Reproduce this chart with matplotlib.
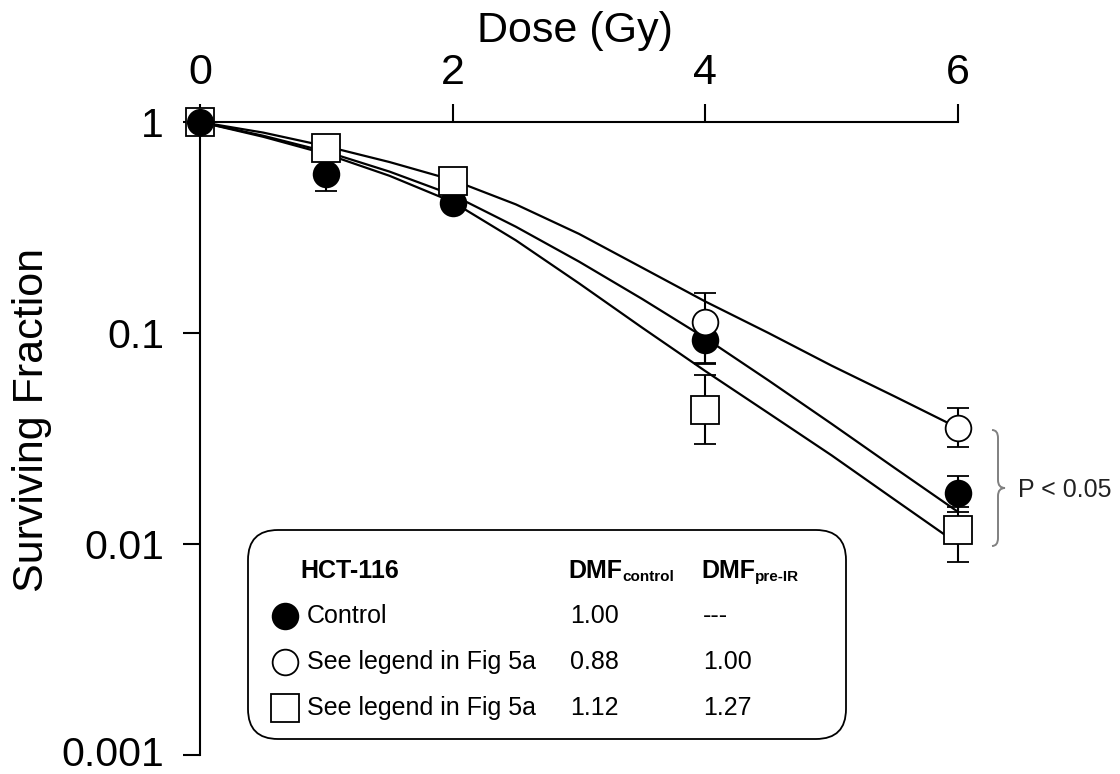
"""Clonogenic survival curve, HCT-116 (recreated figure)."""

import matplotlib.pyplot as plt
from matplotlib.lines import Line2D
from matplotlib.patches import FancyBboxPatch, PathPatch
from matplotlib.path import Path
from matplotlib.ticker import NullLocator
from matplotlib.transforms import ScaledTranslation

plt.rcParams['font.family'] = ['Liberation Sans', 'DejaVu Sans']

# measured points: mean surviving fraction with lower / upper error
ctrl_dose = [0, 1, 2, 4, 6]
ctrl_sf = [1.0, 0.567, 0.412, 0.0927, 0.0174]
ctrl_err_lo = [0, 0.097, 0, 0.0214, 0.0032]
ctrl_err_hi = [0, 0.097, 0, 0.0214, 0.0036]

open_dose = [0, 4, 6]
open_sf = [1.0, 0.113, 0.0353]
open_err_lo = [0, 0.041, 0.0066]
open_err_hi = [0, 0.041, 0.0087]

sq_dose = [0, 1, 2, 4, 6]
sq_sf = [1.0, 0.750, 0.525, 0.0431, 0.01165]
sq_err_lo = [0, 0, 0, 0.0133, 0.0034]
sq_err_hi = [0, 0, 0, 0.0201, 0.0034]

# fitted curves, every 0.5 Gy
fit_dose = [0, 0.5, 1, 1.5, 2, 2.5, 3, 3.5, 4, 4.5, 5, 5.5, 6]
fit_open = [1.0, 0.891, 0.767, 0.646, 0.531, 0.407, 0.295, 0.204, 0.141,
            0.100, 0.070, 0.050, 0.0355]
fit_ctrl = [1.0, 0.861, 0.723, 0.582, 0.451, 0.319, 0.218, 0.145, 0.0946,
            0.0596, 0.0371, 0.0229, 0.0142]
fit_sq = [1.0, 0.851, 0.705, 0.556, 0.418, 0.275, 0.172, 0.106, 0.066,
          0.0417, 0.0263, 0.0162, 0.0100]

# table inside the legend box
row_labels = ['Control', 'See legend in Fig 5a', 'See legend in Fig 5a']
dmf_control = ['1.00', '0.88', '1.12']
dmf_pre_ir = ['---', '1.00', '1.27']

x_ticks = [0, 2, 4, 6]
y_ticks = [1, 0.1, 0.01, 0.001]
y_ticklabels = ['1', '0.1', '0.01', '0.001']

W, H = 1120, 774
fig = plt.figure(figsize=(W / 100, H / 100), dpi=100)
ax = fig.add_axes([200 / W, 1 - 755 / H, 758 / W, 633 / H])


def at(x, y):
    """pixel position (from top-left) -> inches for fig.dpi_scale_trans"""
    return x / 100, (H - y) / 100


inch = fig.dpi_scale_trans

# fitted curves
for sf in (fit_open, fit_ctrl, fit_sq):
    ax.plot(fit_dose, sf, color='black', lw=1.6, zorder=2,
            solid_joinstyle='round')

# data points
common = dict(ecolor='black', elinewidth=1.5, capsize=8, capthick=1.5,
              mec='black', mew=1.3, linestyle='none')
series = [
    (ctrl_dose, ctrl_sf, ctrl_err_lo, ctrl_err_hi, 'o', 18.5, 'black', 3),
    (open_dose, open_sf, open_err_lo, open_err_hi, 'o', 18.5, 'white', 4),
    (sq_dose, sq_sf, sq_err_lo, sq_err_hi, 's', 20, 'white', 5),
]
for dose, sf, lo, hi, mk, ms, fc, z in series:
    cont = ax.errorbar(dose, sf, yerr=[lo, hi], marker=mk, ms=ms, mfc=fc,
                       zorder=z, **common)
    for art in cont.get_children():
        art.set_clip_on(False)

# control point at 0 Gy sits on top of the square
ax.plot(ctrl_dose[:1], ctrl_sf[:1], 'o', ms=18.5, mfc='black', mec='black',
        zorder=6, clip_on=False)

# axes styling
ax.set_yscale('log')
ax.set_xlim(0, 6)
ax.set_ylim(0.001, 1)
ax.xaxis.tick_top()
ax.xaxis.set_label_position('top')
ax.set_xticks(x_ticks, labels=[str(t) for t in x_ticks])
ax.set_yticks(y_ticks, labels=y_ticklabels)
ax.yaxis.set_minor_locator(NullLocator())
ax.tick_params(axis='x', direction='out', length=13, width=1.5, pad=8,
               labelsize=31)
ax.tick_params(axis='y', direction='out', length=12, width=1.5, pad=14,
               labelsize=29.5)
for side in ('right', 'bottom'):
    ax.spines[side].set_visible(False)
for side in ('left', 'top'):
    ax.spines[side].set_linewidth(1.5)

# keep the lowest tick label inside the canvas
low = ax.get_yticklabels()[-1]
low.set_transform(low.get_transform() + ScaledTranslation(0, 4 / 100, inch))

ax.set_xlabel('Dose (Gy)', fontsize=31)
ax.xaxis.set_label_coords(0.494, 1.126)
ax.set_ylabel('Surviving Fraction', fontsize=31)
ax.yaxis.set_label_coords(-0.195, 0.53)

# legend box with DMF table
x0, y0 = at(248, 739)
x1, y1 = at(846, 530)
box = FancyBboxPatch((x0, y0), x1 - x0, y1 - y0,
                     boxstyle='round,pad=0,rounding_size=0.3',
                     transform=inch, fc='white', ec='black', lw=1.3, zorder=7)
fig.add_artist(box)

fs = 18
col_x = [568, 701]
fig.text(*at(300, 571), 'HCT-116', transform=inch, fontsize=fs,
         fontweight='bold', va='center', zorder=8)
for xpos, sub in zip(col_x, ('control', 'pre-IR')):
    t = fig.text(*at(xpos, 571), 'DMF', transform=inch, fontsize=fs,
                 fontweight='bold', va='center', zorder=8)
    fig.add_artist(plt.Annotation(sub, xy=(1.0, 0.1), xycoords=t,
                                  fontsize=11, fontweight='bold',
                                  va='baseline', ha='left', zorder=8))

legend_marks = [('o', 'black', 18.5), ('o', 'white', 18.5), ('s', 'white', 20)]
row_y = [616, 662, 708]
for (mk, fc, ms), label, d1, d2, ry in zip(legend_marks, row_labels,
                                           dmf_control, dmf_pre_ir, row_y):
    mx, my = at(285, ry)
    fig.add_artist(Line2D([mx], [my], marker=mk, ms=ms, mfc=fc, mec='black',
                          mew=1.3, transform=inch, zorder=8))
    fig.text(*at(307, ry), label, transform=inch, fontsize=fs, va='center',
             zorder=8)
    fig.text(*at(col_x[0] + 2, ry), d1, transform=inch, fontsize=fs,
             va='center', zorder=8)
    fig.text(*at(col_x[1] + 2, ry), d2, transform=inch, fontsize=fs,
             va='center', zorder=8)

# significance brace at 6 Gy
bx0, bx1, bx2 = 992, 998, 1005
by_t, by_m, by_b, d = 430, 488, 546, 8
pts = [(bx0, by_t), (bx1, by_t), (bx1, by_t + d), (bx1, by_m - d),
       (bx1, by_m), (bx2, by_m), (bx1, by_m), (bx1, by_m + d),
       (bx1, by_b - d), (bx1, by_b), (bx0, by_b)]
codes = [Path.MOVETO, Path.CURVE3, Path.CURVE3, Path.LINETO,
         Path.CURVE3, Path.CURVE3, Path.CURVE3, Path.CURVE3,
         Path.LINETO, Path.CURVE3, Path.CURVE3]
brace = PathPatch(Path([at(*p) for p in pts], codes), transform=inch,
                  fc='none', ec='#808080', lw=1.4)
fig.add_artist(brace)
fig.text(*at(1018, 490), 'P < 0.05', transform=inch, fontsize=18,
         va='center', color='#222222')

fig.savefig('out.png', dpi=100)
